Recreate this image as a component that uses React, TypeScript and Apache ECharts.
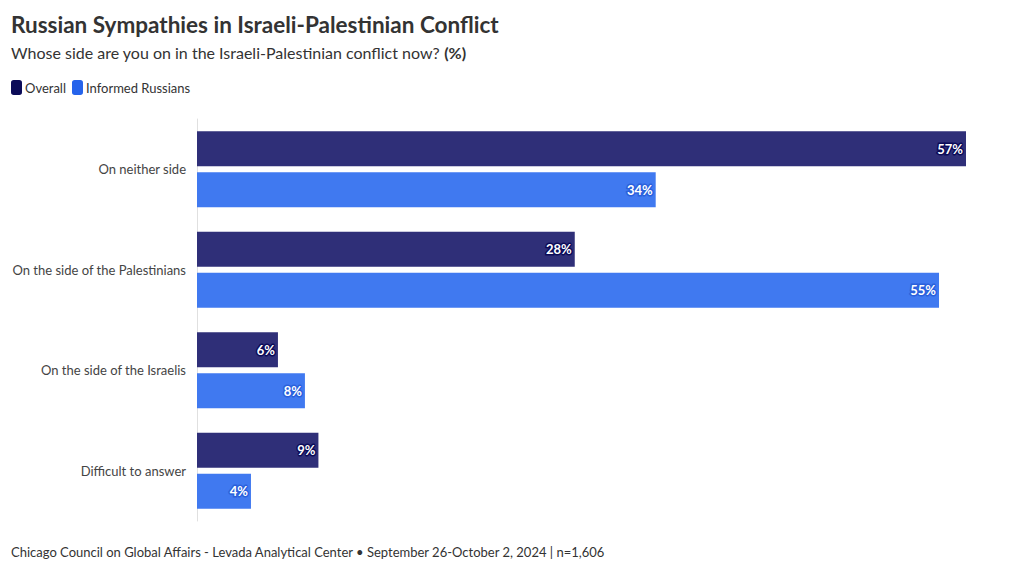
import React, { useEffect, useRef } from "react";
import * as echarts from "echarts";

const categories = [
  "On neither side",
  "On the side of the Palestinians",
  "On the side of the Israelis",
  "Difficult to answer",
];
const overall = [57, 28, 6, 9];
const informed = [34, 55, 8, 4];
const seriesNames = ["Overall", "Informed Russians"];

const FONT = "Lato, 'Source Sans Pro', sans-serif";

export default function App() {
  const ref = useRef<HTMLDivElement>(null);
  useEffect(() => {
    if (!ref.current) return;
    const chart = echarts.init(ref.current, null, { renderer: "svg" });
    chart.setOption({
      animation: false,
      textStyle: { fontFamily: FONT },
      title: [
        {
          text: "Russian Sympathies in Israeli-Palestinian Conflict",
          left: 6,
          top: 8,
          textStyle: { fontSize: 22.5, fontWeight: "bold", color: "#333", fontFamily: FONT },
        },
        {
          text: "Whose side are you on in the Israeli-Palestinian conflict now? {b|(%)}",
          left: 6,
          top: 39,
          textStyle: {
            fontSize: 16,
            fontWeight: "normal",
            color: "#333",
            fontFamily: FONT,
            rich: { b: { fontSize: 16, fontWeight: "bold", color: "#333", fontFamily: FONT } },
          },
        },
        {
          text: "Chicago Council on Global Affairs - Levada Analytical Center • September 26-October 2, 2024 | n=1,606",
          left: 6,
          top: 540,
          textStyle: { fontSize: 13, fontWeight: "normal", color: "#333", fontFamily: FONT },
        },
      ],
      legend: {
        left: 6,
        top: 75,
        icon: "roundRect",
        itemWidth: 11,
        itemHeight: 15,
        itemGap: 6,
        textStyle: { fontSize: 13, color: "#333", padding: [0, 0, 0, -2], fontFamily: FONT },
        data: [
          { name: seriesNames[0], itemStyle: { color: "#0b0b58" } },
          { name: seriesNames[1], itemStyle: { color: "#2563eb" } },
        ],
      },
      grid: { left: 197, right: 54, top: 119, bottom: 51, containLabel: false },
      xAxis: {
        type: "value",
        min: 0,
        max: 57,
        show: false,
      },
      yAxis: {
        type: "category",
        data: categories,
        inverse: true,
        axisLine: { show: true, lineStyle: { color: "#e0e0e0" } },
        axisTick: { show: false },
        axisLabel: { fontSize: 13, color: "#444", margin: 11, fontFamily: FONT },
      },
      series: [
        {
          name: seriesNames[0],
          type: "bar",
          data: overall,
          barWidth: 35,
          barGap: "17%",
          itemStyle: { color: "#2f2f78" },
          label: {
            show: true,
            position: "insideRight",
            distance: 3,
            formatter: "{c}%",
            fontSize: 13,
            fontWeight: "bold",
            color: "#fff",
            textBorderColor: "#0b0b58",
            textBorderWidth: 3,
            fontFamily: FONT,
          },
        },
        {
          name: seriesNames[1],
          type: "bar",
          data: informed,
          barWidth: 35,
          barGap: "17%",
          itemStyle: { color: "#4079f0" },
          label: {
            show: true,
            position: "insideRight",
            distance: 3,
            formatter: "{c}%",
            fontSize: 13,
            fontWeight: "bold",
            color: "#fff",
            textBorderColor: "#2a60dc",
            textBorderWidth: 3,
            fontFamily: FONT,
          },
        },
      ],
    });
    return () => chart.dispose();
  }, []);
  return <div ref={ref} style={{ width: 1020, height: 572, position: "absolute", left: 0, top: 0 }} />;
}
